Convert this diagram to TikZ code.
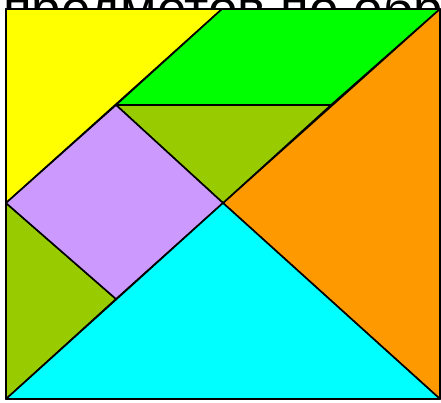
\documentclass[tikz,border=0pt]{standalone}
\usepackage{fontspec}
\setmainfont{Liberation Sans}
\definecolor{tanYellow}{HTML}{FFFF00}
\definecolor{tanGreen}{HTML}{00FF00}
\definecolor{tanOrange}{HTML}{FF9900}
\definecolor{tanOlive}{HTML}{99CC00}
\definecolor{tanPurple}{HTML}{CC99FF}
\definecolor{tanCyan}{HTML}{00FFFF}
\tikzset{
  piece/.style={draw=black, line width=1.6pt, line join=round},
  caption/.style={anchor=base west, inner sep=0pt, font=\fontsize{53}{64}\selectfont}
}
\begin{document}
\begin{tikzpicture}[x=1pt, y=-1pt]
\useasboundingbox (0,0) rectangle (441,402);
\clip (0,0) rectangle (441,402);
\fill[white] (0,0) rectangle (441,402);

% Title text, cut by the top edge
\node[caption] (title) at (3,27) {предметов по обр};

% Corners and inner points
\coordinate (tl) at (6,9);
\coordinate (tr) at (440,9);
\coordinate (br) at (440,399);
\coordinate (bl) at (6,399);
\coordinate (tm) at (222,9);
\coordinate (ml) at (6,203);
\coordinate (c) at (223,203);
\coordinate (pa) at (116,105);
\coordinate (pb) at (331,105);
\coordinate (pc) at (116,299);

% Yellow triangle
\filldraw[piece, fill=tanYellow] (tl) -- (tm) -- (ml) -- cycle;
% Green parallelogram
\filldraw[piece, fill=tanGreen] (tm) -- (tr) -- (pb) -- (pa) -- cycle;
% Orange triangle
\filldraw[piece, fill=tanOrange] (tr) -- (br) -- (c) -- cycle;
% Small triangles
\filldraw[piece, fill=tanOlive] (pa) -- (pb) -- (c) -- cycle;
\filldraw[piece, fill=tanOlive] (ml) -- (pc) -- (bl) -- cycle;
% Square
\filldraw[piece, fill=tanPurple] (pa) -- (c) -- (pc) -- (ml) -- cycle;
% Cyan triangle
\filldraw[piece, fill=tanCyan] (bl) -- (c) -- (br) -- cycle;

% Frame
\draw[piece] (tl) rectangle (br);
\end{tikzpicture}
\end{document}
